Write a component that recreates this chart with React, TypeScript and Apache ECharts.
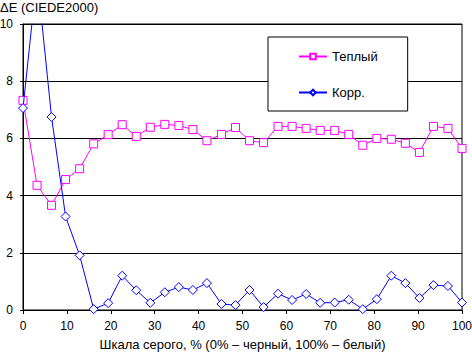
import React, { useEffect, useRef } from "react";
import * as echarts from "echarts";

const grayLevels = [0, 3.2, 6.5, 9.7, 12.9, 16.1, 19.4, 22.6, 25.8, 29.0, 32.3, 35.5, 38.7, 41.9, 45.2, 48.4, 51.6, 54.8, 58.1, 61.3, 64.5, 67.7, 71.0, 74.2, 77.4, 80.6, 83.9, 87.1, 90.3, 93.5, 96.8, 100];
const warmValues = [7.33, 4.36, 3.66, 4.56, 4.94, 5.81, 6.13, 6.48, 6.07, 6.39, 6.49, 6.45, 6.31, 5.92, 6.14, 6.38, 5.92, 5.85, 6.42, 6.42, 6.35, 6.28, 6.28, 6.14, 5.76, 6.0, 5.97, 5.83, 5.51, 6.42, 6.35, 5.65];
const corrValues = [7.06, 11.7, 6.75, 3.27, 1.91, 0.03, 0.24, 1.2, 0.69, 0.25, 0.62, 0.8, 0.7, 0.94, 0.21, 0.17, 0.7, 0.1, 0.57, 0.35, 0.56, 0.25, 0.26, 0.36, 0.03, 0.38, 1.2, 0.94, 0.42, 0.87, 0.84, 0.26];
const seriesNames = ["Теплый", "Корр."];
const yTicks = [0, 2, 4, 6, 8, 10];
const xTicks = [0, 10, 20, 30, 40, 50, 60, 70, 80, 90, 100];

const FONT = "'Liberation Sans', Arial, sans-serif";

export default function App() {
  const ref = useRef<HTMLDivElement>(null);
  useEffect(() => {
    if (!ref.current) return;
    document.body.style.margin = "0";
    document.body.style.overflow = "hidden";
    const chart = echarts.init(ref.current, null, { renderer: "svg" });
    const mk = (vals: number[]) => grayLevels.map((x, i) => [x, vals[i]]);
    chart.setOption({
      animation: false,
      backgroundColor: "#fff",
      textStyle: { fontFamily: FONT },
      graphic: [
        {
          type: "text",
          left: 0,
          top: 1,
          silent: true,
          style: { text: "ΔE (CIEDE2000)", fontSize: 13, fontFamily: FONT, fill: "#000" },
        },
      ],
      grid: {
        left: 23,
        right: 10,
        top: 24,
        bottom: 43,
        show: true,
        borderColor: "#000",
        borderWidth: 1,
        backgroundColor: "transparent",
        containLabel: false,
        outerBoundsMode: "none",
      },
      legend: {
        left: 268,
        top: 37,
        orient: "vertical",
        backgroundColor: "#fff",
        borderColor: "#000",
        borderWidth: 1,
        borderRadius: 0,
        padding: [13, 30, 12, 30],
        itemWidth: 28,
        itemHeight: 7,
        itemGap: 23,
        selectedMode: false,
        textStyle: { fontSize: 13, color: "#000", fontFamily: FONT },
        data: seriesNames,
      },
      xAxis: {
        type: "value",
        min: xTicks[0],
        max: xTicks[xTicks.length - 1],
        interval: 10,
        name: "Шкала серого, % (0% – черный, 100% – белый)",
        nameLocation: "middle",
        nameGap: 28,
        nameTextStyle: { fontSize: 13, color: "#000", fontFamily: FONT },
        axisLine: { lineStyle: { color: "#000", width: 1 } },
        axisTick: { show: true, length: 4, lineStyle: { color: "#000" } },
        axisLabel: { fontSize: 12, color: "#000", margin: 10, fontFamily: FONT },
        splitLine: { show: false },
      },
      yAxis: {
        type: "value",
        min: yTicks[0],
        max: yTicks[yTicks.length - 1],
        interval: 2,
        axisLine: { show: true, lineStyle: { color: "#000", width: 1 } },
        axisTick: { show: true, length: 3, lineStyle: { color: "#000" } },
        axisLabel: { fontSize: 12, color: "#000", margin: 10, fontFamily: FONT },
        splitLine: { show: true, lineStyle: { color: "#000", width: 1 } },
      },
      series: [
        {
          name: seriesNames[0],
          type: "line",
          data: mk(warmValues),
          symbol: "rect",
          symbolSize: 8,
          showAllSymbol: true,
          clip: true,
          silent: true,
          emphasis: { disabled: true },
          lineStyle: { color: "#ff00ff", width: 1 },
          itemStyle: { color: "#ffffff", borderColor: "#ff00ff", borderWidth: 1 },
          color: "#ff00ff",
          z: 3,
        },
        {
          name: seriesNames[1],
          type: "line",
          data: mk(corrValues),
          symbol: "diamond",
          symbolSize: 9,
          showAllSymbol: true,
          clip: true,
          silent: true,
          emphasis: { disabled: true },
          lineStyle: { color: "#0000ff", width: 1 },
          itemStyle: { color: "#ffffff", borderColor: "#0000ff", borderWidth: 1 },
          color: "#0000ff",
          z: 4,
        },
      ],
    });
    return () => chart.dispose();
  }, []);
  return <div ref={ref} style={{ width: 472, height: 353 }} />;
}
